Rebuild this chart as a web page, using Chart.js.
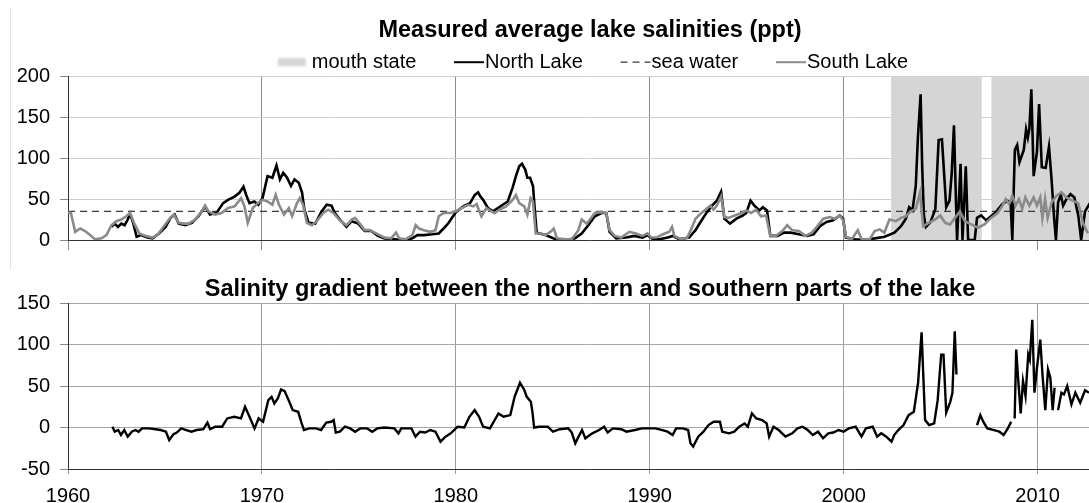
<!DOCTYPE html>
<html>
<head>
<meta charset="utf-8">
<script src="https://cdn.jsdelivr.net/npm/chart.js@4"></script>
<style>
  body { margin: 0; background: #fff; }
  #wrap { position: relative; width: 1089px; height: 503px; overflow: hidden; background: #fff; }
  .panel { position: absolute; left: 0; width: 1114px; }
  #edge { position: absolute; left: 10px; top: 8px; height: 262px; border-left: 1px solid #e2e2e2; }
</style>
</head>
<body>
<div id="wrap">
  <div id="edge"></div>
  <div class="panel" style="top:0;height:262px"><canvas id="salinityChart"></canvas></div>
  <div class="panel" style="top:262px;height:256px"><canvas id="gradientChart"></canvas></div>
</div>
<script>
const yearMin = 1960;
const yearMax = 2013.84;
const decadeTicks = [1960, 1970, 1980, 1990, 2000, 2010];

// mouth state: 1 = closed, 0 = open
const mouthYears = [1960, 2002.45, 2007.12, 2007.62, 2015];
const mouthClosed = [0, 1, 0, 1, 1];

const seaWater = 35;

const northYears = [
  1962.24, 1962.4, 1962.58, 1962.75, 1962.92, 1963.08, 1963.2, 1963.37, 1963.54, 1963.76,
  1964.1, 1964.36, 1964.69, 1965.03, 1965.29, 1965.5, 1965.71, 1966.05, 1966.39, 1966.73,
  1967.07, 1967.32, 1967.66, 1968.0, 1968.25, 1968.59, 1968.85, 1969.05, 1969.19, 1969.36,
  1969.61, 1969.81, 1970.03, 1970.29, 1970.54, 1970.75, 1970.93, 1971.1, 1971.3, 1971.5,
  1971.68, 1971.9, 1972.07, 1972.19, 1972.41, 1972.75, 1973.08, 1973.34, 1973.59, 1973.76,
  1974.02, 1974.36, 1974.63, 1974.97, 1975.3, 1975.64, 1975.98, 1976.32, 1976.83, 1977.34,
  1977.76, 1978.02, 1978.36, 1978.78, 1979.12, 1979.37, 1979.63, 1980.0, 1980.39, 1980.73,
  1980.98, 1981.15, 1981.27, 1981.41, 1981.66, 1981.92, 1982.17, 1982.42, 1982.68, 1982.93,
  1983.1, 1983.27, 1983.41, 1983.58, 1983.69, 1983.83, 1983.98, 1984.08, 1984.17, 1984.63,
  1985.14, 1985.64, 1986.15, 1986.49, 1986.83, 1987.17, 1987.51, 1987.76, 1987.93, 1988.27,
  1988.78, 1989.2, 1989.63, 1989.88, 1990.17, 1990.51, 1990.93, 1991.18, 1991.52, 1992.03,
  1992.36, 1992.62, 1992.95, 1993.21, 1993.46, 1993.68, 1993.85, 1994.14, 1994.47, 1994.81,
  1994.98, 1995.2, 1995.4, 1995.66, 1995.83, 1996.05, 1996.22, 1996.59, 1996.93, 1997.26,
  1997.69, 1998.11, 1998.45, 1998.78, 1999.12, 1999.46, 1999.8, 1999.97, 2000.12, 2000.59,
  2001.1, 2001.6, 2002.11, 2002.62, 2002.96, 2003.21, 2003.38, 2003.55, 2003.72, 2003.83,
  2003.97, 2004.05, 2004.14, 2004.24, 2004.48, 2004.73, 2004.9, 2005.07, 2005.19, 2005.29,
  2005.46, 2005.57, 2005.69, 2005.79, 2005.85, 2006.03, 2006.13, 2006.3, 2006.42, 2006.76,
  2006.88, 2007.09, 2007.35, 2007.6, 2007.85, 2008.19, 2008.45, 2008.61, 2008.7, 2008.83,
  2008.95, 2009.07, 2009.29, 2009.41, 2009.5, 2009.58, 2009.68, 2009.8, 2009.97, 2010.08,
  2010.22, 2010.42, 2010.59, 2010.73, 2010.86, 2010.95, 2011.06, 2011.2, 2011.32, 2011.49,
  2011.7, 2011.9, 2012.1, 2012.25, 2012.45, 2012.7
];
const northSalinity = [
  16, 20, 16, 20, 18, 25, 32, 20, 4, 6,
  3, 2, 8, 16, 27, 31, 20, 18, 21, 29,
  41, 31, 33, 45, 49, 53, 58, 65, 55, 45,
  47, 43, 51, 78, 76, 91, 74, 82, 76, 66,
  74, 70, 58, 37, 21, 20, 35, 43, 42, 33,
  25, 16, 23, 20, 11, 11, 5, 2, 1, 0,
  2, 6, 6, 7, 8, 14, 21, 34, 41, 45,
  55, 58, 53, 49, 39, 35, 39, 43, 47, 64,
  78, 90, 93, 86, 76, 76, 66, 35, 9, 6,
  1, 0, 2, 8, 18, 29, 33, 33, 10, 2,
  3, 5, 3, 6, 1, 1, 3, 5, 1, 3,
  12, 22, 34, 42, 48, 59, 26, 20, 26, 30,
  33, 48, 42, 36, 40, 36, 5, 5, 9, 9,
  7, 5, 7, 17, 22, 24, 30, 26, 3, 1,
  0, 2, 4, 9, 17, 26, 40, 36, 66, 125,
  178, 90, 30, 16, 22, 38, 122, 123, 78, 40,
  48, 80, 140, 50, 0, 93, 0, 90, 0, 0,
  27, 30, 24, 29, 34, 44, 48, 46, 0, 110,
  116, 95, 110, 135, 125, 136, 184, 78, 108, 166,
  89, 88, 114, 72, 25, 0, 46, 55, 42, 50,
  56, 52, 30, 0, 35, 45
];

const southYears = [
  1960.0, 1960.15, 1960.37, 1960.63, 1960.88, 1961.14, 1961.39, 1961.73, 1961.98, 1962.24,
  1962.49, 1962.75, 1963.0, 1963.2, 1963.42, 1963.68, 1964.02, 1964.36, 1964.61, 1964.86,
  1965.2, 1965.46, 1965.71, 1965.97, 1966.22, 1966.56, 1966.9, 1967.07, 1967.24, 1967.58,
  1967.92, 1968.25, 1968.59, 1968.93, 1969.1, 1969.27, 1969.53, 1969.78, 1970.03, 1970.29,
  1970.54, 1970.71, 1970.88, 1971.14, 1971.39, 1971.56, 1971.81, 1971.95, 1972.12, 1972.32,
  1972.58, 1972.83, 1973.17, 1973.42, 1973.68, 1974.02, 1974.36, 1974.63, 1974.8, 1975.05,
  1975.3, 1975.56, 1975.81, 1976.07, 1976.32, 1976.66, 1976.92, 1977.08, 1977.42, 1977.76,
  1977.93, 1978.1, 1978.36, 1978.69, 1978.95, 1979.12, 1979.37, 1979.71, 1980.0, 1980.3,
  1980.64, 1980.9, 1981.07, 1981.32, 1981.58, 1981.83, 1982.0, 1982.25, 1982.59, 1982.93,
  1983.1, 1983.27, 1983.53, 1983.69, 1983.86, 1983.98, 1984.12, 1984.37, 1984.63, 1984.88,
  1985.05, 1985.22, 1985.64, 1985.98, 1986.32, 1986.49, 1986.75, 1986.92, 1987.17, 1987.51,
  1987.76, 1987.93, 1988.19, 1988.53, 1988.95, 1989.29, 1989.63, 1989.88, 1990.08, 1990.34,
  1990.68, 1991.01, 1991.15, 1991.27, 1991.6, 1991.94, 1992.19, 1992.36, 1992.62, 1992.87,
  1993.12, 1993.29, 1993.46, 1993.68, 1993.85, 1994.05, 1994.39, 1994.73, 1994.98, 1995.23,
  1995.49, 1995.74, 1996.0, 1996.22, 1996.5, 1996.84, 1997.09, 1997.35, 1997.69, 1998.03,
  1998.36, 1998.62, 1998.95, 1999.29, 1999.54, 1999.8, 1999.97, 2000.12, 2000.42, 2000.73,
  2000.93, 2001.35, 2001.6, 2001.86, 2002.1, 2002.36, 2002.7, 2002.96, 2003.21, 2003.46,
  2003.72, 2003.94, 2004.1, 2004.39, 2004.73, 2004.98, 2005.24, 2005.49, 2005.74, 2006.0,
  2006.25, 2006.59, 2006.93, 2007.26, 2007.6, 2007.94, 2008.19, 2008.36, 2008.53, 2008.7,
  2008.87, 2009.04, 2009.21, 2009.37, 2009.58, 2009.8, 2009.97, 2010.14, 2010.25, 2010.39,
  2010.52, 2010.73, 2010.98, 2011.23, 2011.49, 2011.8, 2012.1, 2012.35, 2012.6
];
const southSalinity = [
  34, 33, 10, 14, 11, 6, 1, 2, 6, 18,
  23, 25, 29, 33, 20, 8, 5, 3, 6, 14,
  25, 31, 21, 20, 20, 25, 35, 42, 35, 31,
  33, 39, 41, 51, 41, 21, 39, 45, 49, 47,
  43, 55, 43, 31, 39, 29, 45, 51, 43, 21,
  18, 23, 33, 37, 33, 24, 18, 25, 27, 20,
  12, 12, 9, 6, 3, 2, 9, 2, 1, 6,
  18, 14, 12, 10, 12, 29, 33, 33, 35, 39,
  43, 41, 44, 29, 39, 35, 33, 37, 41, 49,
  55, 45, 41, 31, 51, 47, 8, 8, 6, 10,
  14, 2, 1, 1, 12, 25, 20, 25, 33, 34,
  33, 12, 5, 3, 10, 8, 5, 8, 3, 3,
  7, 10, 16, 5, 1, 3, 16, 26, 32, 37,
  42, 37, 42, 53, 28, 27, 30, 33, 36, 33,
  37, 29, 30, 5, 5, 11, 18, 12, 11, 5,
  9, 16, 26, 28, 26, 30, 24, 4, 1, 12,
  1, 1, 11, 13, 9, 25, 23, 27, 29, 35,
  38, 58, 17, 21, 25, 30, 21, 19, 27, 35,
  23, 19, 15, 19, 27, 33, 42, 50, 44, 54,
  42, 50, 38, 52, 42, 52, 42, 52, 27, 50,
  27, 46, 54, 58, 52, 48, 45, 20, 8
];

// north minus south; null marks breaks in the record
const gradientYears = [
  1962.29, 1962.41, 1962.59, 1962.73, 1962.9, 1963.08, 1963.29, 1963.47, 1963.64, 1963.82,
  1964.17, 1964.52, 1964.78, 1965.05, 1965.22, 1965.44, 1965.61, 1965.84, 1966.1, 1966.37,
  1966.63, 1966.98, 1967.19, 1967.33, 1967.6, 1967.95, 1968.21, 1968.57, 1968.92, 1969.13,
  1969.36, 1969.62, 1969.83, 1970.06, 1970.33, 1970.5, 1970.64, 1970.82, 1970.99, 1971.17,
  1971.38, 1971.59, 1971.87, 1972.05, 1972.17, 1972.44, 1972.79, 1973.05, 1973.32, 1973.58,
  1973.7, 1973.81, 1974.02, 1974.28, 1974.55, 1974.81, 1975.07, 1975.43, 1975.69, 1975.95,
  1976.31, 1976.83, 1977.04, 1977.19, 1977.71, 1977.92, 1978.15, 1978.42, 1978.68, 1978.95,
  1979.21, 1979.47, 1979.74, 1980.09, 1980.44, 1980.7, 1980.97, 1981.2, 1981.41, 1981.76,
  1982.2, 1982.46, 1982.81, 1983.03, 1983.31, 1983.52, 1983.66, 1983.87, 1983.95, 1984.04,
  1984.3, 1984.74, 1985.01, 1985.36, 1985.8, 1985.98, 1986.16, 1986.33, 1986.51, 1986.68,
  1987.04, 1987.39, 1987.65, 1987.83, 1988.1, 1988.54, 1988.8, 1989.24, 1989.59, 1990.0,
  1990.3, 1990.65, 1990.92, 1991.18, 1991.36, 1991.71, 1991.98, 1992.1, 1992.24, 1992.5,
  1992.77, 1993.03, 1993.3, 1993.62, 1993.74, 1994.09, 1994.36, 1994.62, 1994.89, 1995.06,
  1995.27, 1995.5, 1995.8, 1996.03, 1996.16, 1996.38, 1996.65, 1997.0, 1997.35, 1997.62,
  1997.88, 1998.15, 1998.41, 1998.68, 1998.94, 1999.21, 1999.47, 1999.74, 2000.0, 2000.26,
  2000.62, 2000.92, 2001.15, 2001.5, 2001.73, 2001.94, 2002.2, 2002.47, 2002.61, 2002.82,
  2003.09, 2003.35, 2003.62, 2003.84, 2004.02, 2004.2, 2004.41, 2004.67, 2004.85, 2005.03,
  2005.15, 2005.29, 2005.5, 2005.61, 2005.73, 2005.82, 2006.3, 2006.88, 2007.05, 2007.2,
  2007.41, 2007.76, 2008.03, 2008.25, 2008.47, 2008.64, 2008.73, 2008.82, 2008.9, 2008.99,
  2009.13, 2009.25, 2009.38, 2009.52, 2009.6, 2009.73, 2009.84, 2009.96, 2010.14, 2010.26,
  2010.4, 2010.54, 2010.66, 2010.78, 2010.88, 2010.97, 2011.06, 2011.23, 2011.36, 2011.53,
  2011.75, 2011.95, 2012.2, 2012.45, 2012.65
];
const gradientValues = [
  1, -5, -3, -9, -3, -11, -5, -3, -5, -1,
  -1, -2, -3, -5, -15, -8, -6, -1, -3, -5,
  -3, -2, 6, -2, 1, 1, 11, 13, 11, 25,
  13, -1, 11, 7, 33, 37, 29, 35, 46, 44,
  33, 21, 19, 5, -3, -1, -1, -3, 6, 7,
  9, -6, -5, 1, -1, -5, -1, -1, -5, -1,
  0, -1, -7, -1, -1, -11, -5, -6, -3, -5,
  -17, -11, -7, 1, 0, 13, 21, 13, 1, -1,
  17, 13, 15, 37, 54, 46, 37, 31, 19, 0,
  1, 1, -5, -2, -1, -6, -19, -11, -3, -13,
  -7, -3, 1, -6, -1, -2, -5, -3, -1, -1,
  -1, -3, -5, -9, -1, -1, -3, -19, -23, -11,
  -5, 3, 7, 7, -5, -7, -5, 1, 5, 1,
  17, 11, 9, 5, -11, 1, -3, -11, -7, -1,
  1, -3, -9, -5, -13, -7, -6, -3, -5, -1,
  1, -11, -1, 1, -11, -7, -11, -17, -9, -3,
  3, 15, 19, 54, 115, 9, 3, 5, 33, 88,
  88, 18, 31, 42, 116, 64, null, 3, 15, 7,
  -1, -3, -5, -9, -1, 7, null, 11, 94, 62,
  17, 56, 38, 88, 82, 130, 42, 70, 106, 62,
  21, 70, 60, 21, 48, null, 21, 42, 40, 50,
  28, 42, 30, 45, 42
];

const points = (xs, ys) => xs.map((x, i) => ({ x: x, y: ys[i] }));

Chart.defaults.font.family = "'Liberation Sans', Arial, sans-serif";
Chart.defaults.color = '#000';

const tickFont = { size: 20 };
const titleFont = { size: 23.5, weight: 'bold' };

// legend row drawn just above the plot area, centred on it
const lineLegend = {
  id: 'lineLegend',
  afterDraw(chart, args, opts) {
    const { ctx, chartArea } = chart;
    const sets = chart.data.datasets;
    ctx.save();
    ctx.font = opts.font;
    ctx.textBaseline = 'middle';
    const sampleW = ds => (ds.fill ? opts.swatch : opts.sample);
    const gapW = ds => (ds.fill ? opts.swatchGap : opts.textGap);
    const widths = sets.map(ds => sampleW(ds) + gapW(ds) + ctx.measureText(ds.label).width);
    const total = widths.reduce((a, b) => a + b, 0) + opts.itemGap * (sets.length - 1);
    let x = (chartArea.left + chartArea.right) / 2 + opts.shift - total / 2;
    const y = chartArea.top - opts.offset;
    sets.forEach((ds, i) => {
      if (ds.fill) {
        ctx.filter = 'blur(1.2px)';
        ctx.fillStyle = ds.backgroundColor;
        ctx.fillRect(x, y - 4, opts.swatch, 8);
        ctx.filter = 'none';
      } else {
        ctx.strokeStyle = ds.borderColor;
        ctx.lineWidth = Math.min(ds.borderWidth, 2);
        ctx.setLineDash(ds.borderDash || []);
        ctx.beginPath();
        ctx.moveTo(x, y);
        ctx.lineTo(x + opts.sample, y);
        ctx.stroke();
        ctx.setLineDash([]);
      }
      ctx.fillStyle = '#000';
      ctx.fillText(ds.label, x + sampleW(ds) + gapW(ds), y);
      x += widths[i] + opts.itemGap;
    });
    ctx.restore();
  }
};

const yearAxis = (showLabels, gridColor, tickLength) => ({
  type: 'linear',
  min: yearMin,
  max: yearMax,
  afterBuildTicks: axis => {
    axis.ticks = decadeTicks.map(v => ({ value: v }));
  },
  ticks: {
    display: showLabels,
    font: tickFont,
    padding: 10,
    maxRotation: 0,
    autoSkip: false,
    callback: v => String(v)
  },
  grid: { color: gridColor, tickLength: tickLength },
  border: { color: '#333' }
});

new Chart(document.getElementById('salinityChart'), {
  type: 'line',
  data: {
    datasets: [
      {
        label: 'mouth state',
        data: points(mouthYears, mouthClosed),
        yAxisID: 'mouth',
        stepped: true,
        fill: 'origin',
        backgroundColor: '#d5d5d5',
        borderWidth: 0,
        pointRadius: 0,
        order: 4
      },
      {
        label: 'North Lake',
        data: points(northYears, northSalinity),
        borderColor: '#000',
        borderWidth: 2.6,
        pointRadius: 0,
        order: 2
      },
      {
        label: 'sea water',
        data: [{ x: yearMin, y: seaWater }, { x: 2015, y: seaWater }],
        borderColor: '#3a3a3a',
        borderWidth: 1.3,
        borderDash: [7, 5],
        pointRadius: 0,
        order: 3
      },
      {
        label: 'South Lake',
        data: points(southYears, southSalinity),
        borderColor: '#8a8a8a',
        borderWidth: 2.6,
        pointRadius: 0,
        order: 1
      }
    ]
  },
  options: {
    responsive: true,
    maintainAspectRatio: false,
    animation: false,
    devicePixelRatio: 1,
    layout: { padding: { left: 0, right: 2, top: 0, bottom: 5 } },
    plugins: {
      legend: { display: false },
      tooltip: { enabled: false },
      title: {
        display: true,
        text: 'Measured average lake salinities (ppt)',
        font: titleFont,
        color: '#000',
        fullSize: false,
        padding: { top: 16, bottom: 32 }
      },
      lineLegend: {
        font: "20px 'Liberation Sans', Arial, sans-serif",
        swatch: 28, swatchGap: 6, sample: 30, textGap: 1, itemGap: 37.7, offset: 14, shift: 3
      }
    },
    scales: {
      x: yearAxis(false, '#8c8c8c', 10),
      y: {
        min: 0,
        max: 200,
        ticks: { stepSize: 50, font: tickFont, padding: 10 },
        grid: { color: '#cfcfcf', tickColor: '#888', tickLength: 8 },
        border: { color: '#333' },
        afterFit: scale => { scale.width = 68; }
      },
      mouth: { display: false, min: 0, max: 1 }
    }
  },
  plugins: [lineLegend]
});

new Chart(document.getElementById('gradientChart'), {
  type: 'line',
  data: {
    datasets: [{
      label: 'North - South',
      data: points(gradientYears, gradientValues),
      borderColor: '#000',
      borderWidth: 2.4,
      pointRadius: 0
    }]
  },
  options: {
    responsive: true,
    maintainAspectRatio: false,
    animation: false,
    devicePixelRatio: 1,
    layout: { padding: { left: 0, right: 2, top: 0, bottom: 0 } },
    plugins: {
      legend: { display: false },
      tooltip: { enabled: false },
      title: {
        display: true,
        text: 'Salinity gradient between the northern and southern parts of the lake',
        font: titleFont,
        color: '#000',
        fullSize: false,
        padding: { top: 13, bottom: 0 }
      }
    },
    scales: {
      x: yearAxis(true, '#9a9a9a', 5),
      y: {
        min: -50,
        max: 150,
        ticks: { stepSize: 50, font: tickFont, padding: 10 },
        grid: { color: '#a6a6a6', tickColor: '#888', tickLength: 8 },
        border: { color: '#333' },
        afterFit: scale => { scale.width = 68; }
      }
    }
  }
});
</script>
</body>
</html>
